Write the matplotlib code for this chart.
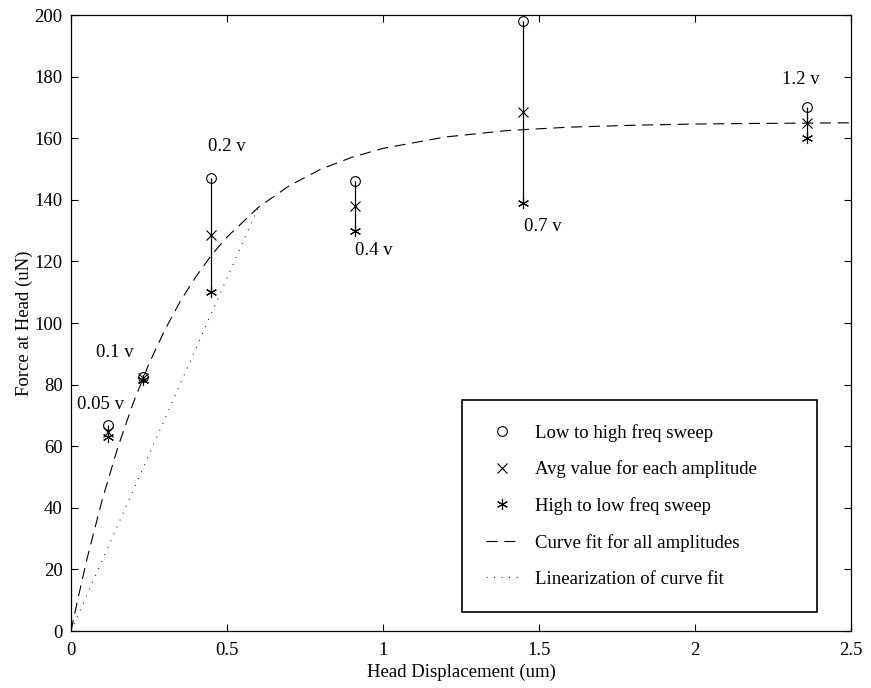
import matplotlib
matplotlib.use("Agg")
import matplotlib.pyplot as plt

# measured amplitudes: head displacement (um) and force (uN)
amplitudes = ["0.05 v", "0.1 v", "0.2 v", "0.4 v", "0.7 v", "1.2 v"]
displacement = [0.12, 0.23, 0.45, 0.91, 1.45, 2.36]
force_low_high = [67, 82.5, 147, 146, 198, 170]
force_avg = [64.5, 82, 128.5, 138, 168.5, 165]
force_high_low = [63, 81.5, 110, 130, 139, 160]

# curve fit
fit_x = [0, 0.02, 0.05, 0.1, 0.15, 0.2, 0.25, 0.3, 0.35, 0.4, 0.45, 0.5, 0.6,
         0.7, 0.8, 0.9, 1.0, 1.2, 1.4, 1.6, 1.8, 2.0, 2.2, 2.5]
fit_y = [0, 9.5, 22.9, 42.6, 59.6, 74.2, 86.8, 97.6, 107.0, 115.0, 122.0,
         127.9, 137.5, 144.6, 149.9, 153.8, 156.7, 160.4, 162.5, 163.6, 164.2,
         164.6, 164.8, 165.0]

# linearization of the curve fit
lin_x = [0, 0.6]
lin_y = [0, 137.5]

# where each amplitude label sits (data coords, left edge / vertical centre)
label_x = [0.02, 0.08, 0.44, 0.91, 1.452, 2.28]
label_y = [73.5, 90.3, 157.2, 123.7, 131.4, 178.9]

x_ticks = [0, 0.5, 1, 1.5, 2, 2.5]
x_ticklabels = ["0", "0.5", "1", "1.5", "2", "2.5"]
y_ticks = list(range(0, 201, 20))

plt.rcParams["font.family"] = ["Liberation Serif", "DejaVu Serif"]
plt.rcParams["font.size"] = 13.5

fig = plt.figure(figsize=(8.71, 6.88), dpi=100)
ax = fig.add_axes([71 / 871, 57 / 688, 780 / 871, 616 / 688])

ax.vlines(displacement, force_high_low, force_low_high, colors="black", linewidth=0.9)
ax.plot(displacement, force_low_high, linestyle="none", marker="o", markersize=7,
        markerfacecolor="none", markeredgecolor="black", markeredgewidth=0.8,
        label="Low to high freq sweep")
ax.plot(displacement, force_avg, linestyle="none", marker="x", markersize=7,
        color="black", markeredgewidth=0.8, label="Avg value for each amplitude")
ax.plot(displacement, force_high_low, linestyle="none", marker=(6, 2, 0), markersize=8,
        color="black", markeredgewidth=0.8, label="High to low freq sweep")
ax.plot(fit_x, fit_y, color="black", linewidth=0.8, dashes=(10, 6),
        label="Curve fit for all amplitudes")
ax.plot(lin_x, lin_y, color="black", linewidth=0.8, linestyle=(0, (0.8, 6)),
        label="Linearization of curve fit")

for name, lx, ly in zip(amplitudes, label_x, label_y):
    ax.text(lx, ly, name, ha="left", va="center")

ax.set_xlim(0, 2.5)
ax.set_ylim(0, 200)
ax.set_xticks(x_ticks)
ax.set_xticklabels(x_ticklabels)
ax.set_yticks(y_ticks)
ax.tick_params(direction="in", length=5, width=0.8, top=True, right=True, pad=6)
ax.tick_params(axis="x", pad=8)
for spine in ax.spines.values():
    spine.set_linewidth(0.9)

ax.set_xlabel("Head Displacement (um)", labelpad=3)
ax.set_ylabel("Force at Head (uN)", labelpad=1)

leg = ax.legend(loc="lower left", bbox_to_anchor=(0.501, 0.031, 0.455, 0.379),
                mode="expand", fancybox=False, framealpha=1, edgecolor="black",
                handlelength=1.7, handletextpad=0.9, labelspacing=1.0,
                borderpad=1.3, borderaxespad=0)
leg.get_frame().set_linewidth(1.2)

fig.savefig("out.png", dpi=100)
